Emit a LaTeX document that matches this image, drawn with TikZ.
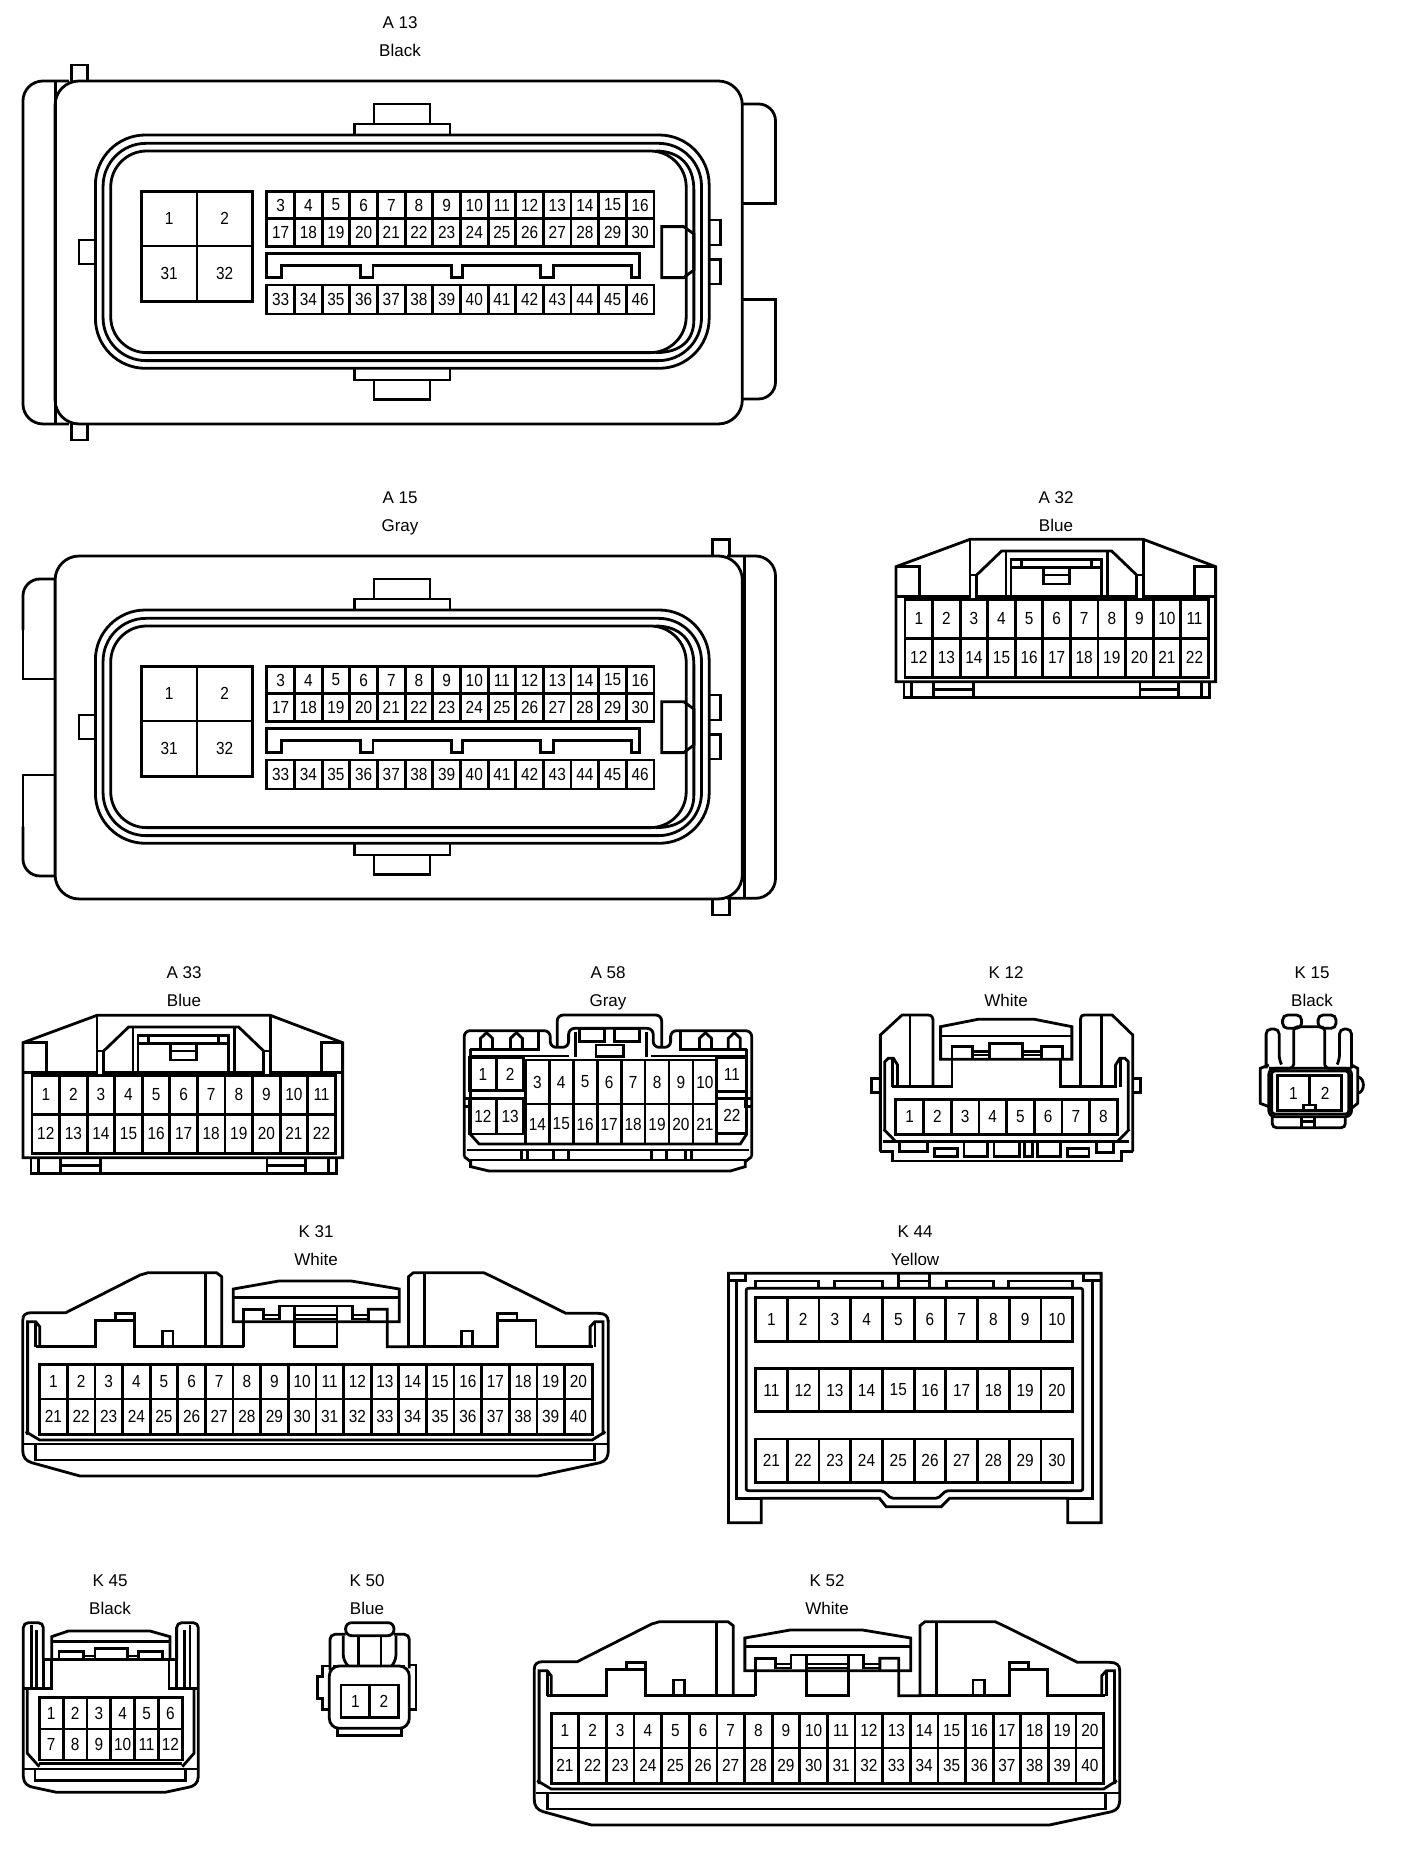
\documentclass[tikz,border=0pt]{standalone}
\usepackage{fontspec}
\setmainfont{Liberation Sans}
\newfontfamily\pinfont[FakeStretch=0.88]{Liberation Sans}
\tikzset{
  ln/.style={line width=2.8pt,line join=miter,line cap=butt},
  pintext/.style={inner sep=0pt,font=\pinfont\fontsize{17.5}{19}\selectfont},
  lbl/.style={inner sep=0pt,anchor=base,font=\fontsize{17}{19}\selectfont}
}
% prefix, x0, x1, y0, y1, cells, first number
\newcommand{\pinrow}[7]{%
  \foreach \ci in {1,...,#6}{%
    \pgfmathsetmacro{\cw}{(#3-#2)/#6}%
    \pgfmathsetmacro{\xa}{#2+(\ci-1)*\cw}%
    \pgfmathsetmacro{\xb}{#2+\ci*\cw}%
    \pgfmathsetmacro{\xm}{(\xa+\xb)/2}%
    \pgfmathsetmacro{\ym}{(#4+#5)/2}%
    \pgfmathtruncatemacro{\pn}{#7+\ci-1}%
    \draw[ln] (\xa,#4) rectangle (\xb,#5);
    \node[pintext] (#1p\pn) at (\xm,\ym) {\pn};
  }%
}
\newcommand{\aface}[1]{%
  \draw[ln,rounded corners=24pt] (108,243) rectangle (1455,1272);
  \draw[ln] (733,372)--(733,312)--(843,312)--(843,372);
  \draw[ln] (695,405)--(695,372)--(882,372)--(882,405);
  \draw[ln] (695,1107)--(695,1140)--(882,1140)--(882,1107);
  \draw[ln] (733,1140)--(733,1198)--(843,1198)--(843,1140);
  \draw[ln,rounded corners=50pt] (187,405) rectangle (1390,1105);
  \draw[ln,rounded corners=43pt] (202,430) rectangle (1375,1082);
  \draw[ln,rounded corners=36pt] (217,453) rectangle (1345,1058);
  \draw[ln] (1285,453) .. controls (1335,453) and (1360,500) .. (1360,570) -- (1360,960) .. controls (1360,1020) and (1335,1058) .. (1285,1058);
  \draw[ln] (187,720)--(155,720)--(155,792)--(187,792);
  \pinrow{#1b}{277}{495}{575}{738}{2}{1}
  \pinrow{#1c}{277}{495}{738}{905}{2}{31}
  \pinrow{#1}{523}{1282}{575}{655}{14}{3}
  \pinrow{#1}{523}{1282}{655}{740}{14}{17}
  \pinrow{#1}{523}{1282}{855}{942}{14}{33}
  \draw[ln] (523,760)--(1253,760)--(1253,833)--(1237,833)--(1237,797)--(1085,797)--(1085,833)--(1060,833)--(1060,797)--(907,797)--(907,833)--(885,833)--(885,797)--(731,797)--(731,833)--(707,833)--(707,797)--(552,797)--(552,833)--(523,833)--cycle;
  \draw[ln] (1297,680)--(1340,680)--(1360,702)--(1360,810)--(1340,833)--(1297,833)--cycle;
  \draw[ln] (1390,660)--(1412,660)--(1412,735)--(1390,735);
  \draw[ln] (1390,778)--(1412,778)--(1412,852)--(1390,852);
}
\newcommand{\bluebody}[1]{%
  \draw[ln] (48,260)--(270,178)--(790,178)--(1007,260)--(1007,605)--(48,605)--cycle;
  \draw[ln] (48,260)--(118,260)--(118,345);
  \draw[ln] (1007,260)--(943,260)--(943,345);
  \draw[ln] (48,350)--(270,350);
  \draw[ln] (290,350)--(393,350);
  \draw[ln] (665,350)--(770,350);
  \draw[ln] (790,350)--(1007,350);
  \draw[ln] (270,178)--(270,358);
  \draw[ln] (790,178)--(790,358);
  \draw[ln] (270,285)--(290,285)--(290,358);
  \draw[ln] (790,285)--(770,285)--(770,358);
  \draw[ln] (290,285)--(365,213)--(695,213)--(770,285);
  \draw[ln] (378,213)--(378,350);
  \draw[ln] (682,213)--(682,350);
  \draw[ln] (393,238)--(665,238)--(665,350)--(393,350)--cycle;
  \draw[ln] (393,262)--(665,262);
  \draw[ln] (425,238)--(425,262);
  \draw[ln] (635,238)--(635,262);
  \draw[ln] (490,262)--(490,312)--(568,312)--(568,262);
  \draw[ln] (490,285)--(568,285);
  \pinrow{#1}{75}{985}{358}{475}{11}{1}
  \pinrow{#1}{75}{985}{475}{592}{11}{12}
  \draw[ln] (72,605)--(72,652)--(988,652)--(988,605);
  \foreach \vx in {95,160,280,780,895,965}{\draw[ln] (\vx,605)--(\vx,652);}
  \draw[ln] (160,628)--(280,628);
  \draw[ln] (780,628)--(895,628);
}
\newcommand{\whitebody}[1]{%
  \draw[ln] (58,300) .. controls (58,285) and (65,278) .. (80,278) -- (165,278) -- (350,165) -- (370,158) -- (540,158) -- (553,170) -- (553,380);
  \draw[ln] (512,158)--(512,380);
  \draw[ln] (582,305)--(582,207)--(695,183)--(875,183)--(995,207)--(995,305)--cycle;
  \draw[ln] (582,232)--(995,232);
  \draw[ln] (608,305)--(608,380);
  \draw[ln] (608,305)--(608,268)--(658,268)--(658,300);
  \draw[ln] (697,300)--(697,258)--(878,258)--(878,300);
  \draw[ln] (735,258)--(735,380)--(840,380)--(840,258);
  \draw[ln] (658,285)--(697,285);
  \draw[ln] (658,297)--(697,297);
  \draw[ln] (878,285)--(918,285);
  \draw[ln] (878,297)--(918,297);
  \draw[ln] (735,285)--(840,285);
  \draw[ln] (735,297)--(840,297);
  \draw[ln] (918,305)--(918,268)--(965,268)--(965,380)--(1018,380)--(1018,170)--(1030,158)--(1205,158)--(1235,175)--(1410,280)--(1490,280) .. controls (1507,280) and (1515,288) .. (1515,305);
  \draw[ln] (1058,158)--(1058,380);
  \draw[ln] (90,380)--(238,380)--(238,302)--(335,302);
  \draw[ln] (288,302)--(288,280)--(335,280)--(335,380)--(608,380);
  \draw[ln] (405,380)--(405,333)--(432,333)--(432,380);
  \draw[ln] (1018,380)--(1240,380)--(1240,280)--(1288,280)--(1288,302);
  \draw[ln] (1240,302)--(1335,302)--(1335,380)--(1478,380);
  \draw[ln] (1150,380)--(1150,333)--(1178,333)--(1178,380);
  \draw[ln] (70,645)--(70,305)--(90,305)--(100,320)--(100,380);
  \draw[ln] (90,305)--(90,380);
  \draw[ln] (1502,645)--(1502,305)--(1482,305)--(1470,320)--(1470,380);
  \draw[ln] (1482,305)--(1482,380);
  \pinrow{#1}{100}{1475}{433}{537}{20}{1}
  \pinrow{#1}{100}{1475}{537}{643}{20}{21}
  \draw[ln] (65,635)--(100,660)--(1475,660)--(1508,635);
  \draw[ln] (62,672)--(1512,672);
  \draw[ln] (90,672)--(90,720)--(1480,720)--(1480,672);
  \draw[ln] (58,300)--(58,690) .. controls (58,712) and (65,722) .. (80,728) -- (200,768) -- (1340,768) -- (1495,728) .. controls (1510,722) and (1515,712) .. (1515,690) -- (1515,300);
}
\begin{document}
\begin{tikzpicture}[x=1pt,y=-1pt]
\useasboundingbox (0,0) rectangle (1408,1850);
\fill[white] (0,0) rectangle (1408,1850);
% labels
\node[lbl] (la13) at (400,28) {A 13};
\node[lbl] (la13c) at (400,56) {Black};
\node[lbl] (la15) at (400,503) {A 15};
\node[lbl] (la15c) at (400,531) {Gray};
\node[lbl] (la32) at (1056,503) {A 32};
\node[lbl] (la32c) at (1056,531) {Blue};
\node[lbl] (la33) at (184,978) {A 33};
\node[lbl] (la33c) at (184,1006) {Blue};
\node[lbl] (la58) at (608,978) {A 58};
\node[lbl] (la58c) at (608,1006) {Gray};
\node[lbl] (lk12) at (1006,978) {K 12};
\node[lbl] (lk12c) at (1006,1006) {White};
\node[lbl] (lk15) at (1312,978) {K 15};
\node[lbl] (lk15c) at (1312,1006) {Black};
\node[lbl] (lk31) at (316,1237) {K 31};
\node[lbl] (lk31c) at (316,1265) {White};
\node[lbl] (lk44) at (915,1237) {K 44};
\node[lbl] (lk44c) at (915,1265) {Yellow};
\node[lbl] (lk45) at (110,1586) {K 45};
\node[lbl] (lk45c) at (110,1614) {Black};
\node[lbl] (lk50) at (367,1586) {K 50};
\node[lbl] (lk50c) at (367,1614) {Blue};
\node[lbl] (lk52) at (827,1586) {K 52};
\node[lbl] (lk52c) at (827,1614) {White};
% A13
\begin{scope}[x=.5102pt,y=-.3333pt]
  \aface{aa}
  \draw[ln] (140,243)--(140,195)--(172,195)--(172,243);
  \draw[ln] (140,1272)--(140,1320)--(172,1320)--(172,1272);
  \draw[ln,rounded corners=20pt] (135,243)--(45,243)--(45,1272)--(135,1272);
  \draw[ln] (108,243)--(108,1272);
  \draw[ln,rounded corners=17pt] (1455,312)--(1520,312)--(1520,450);
  \draw[ln] (1520,450)--(1520,610)--(1455,610);
  \draw[ln] (1455,898)--(1520,898)--(1520,1050);
  \draw[ln,rounded corners=17pt] (1520,1050)--(1520,1197)--(1455,1197);
\end{scope}
% A15
\begin{scope}[shift={(0pt,-475pt)},x=.5102pt,y=-.3333pt]
  \aface{ab}
\end{scope}
\begin{scope}[shift={(0pt,-480pt)},x=.5102pt,y=-.3333pt]
  \draw[ln] (1397,228)--(1397,178)--(1430,178)--(1430,228);
  \draw[ln] (1397,1255)--(1397,1305)--(1430,1305)--(1430,1255);
  \draw[ln,rounded corners=20pt] (1425,228)--(1520,228)--(1520,1255)--(1425,1255);
  \draw[ln] (1460,228)--(1460,1255);
  \draw[ln,rounded corners=17pt] (108,297)--(45,297)--(45,450);
  \draw[ln] (45,450)--(45,597)--(108,597);
  \draw[ln] (108,885)--(45,885)--(45,1040);
  \draw[ln,rounded corners=17pt] (45,1040)--(45,1188)--(108,1188);
\end{scope}
% A32, A33
\begin{scope}[shift={(880pt,-480pt)},x=.3333pt,y=-.3333pt]
  \bluebody{ac}
\end{scope}
\begin{scope}[shift={(7pt,-956pt)},x=.3333pt,y=-.3333pt]
  \bluebody{ad}
\end{scope}
% A58
\begin{scope}[shift={(-1pt,-960pt)},x=.4975pt,y=-.3333pt]
  \draw[ln,rounded corners=6pt] (935,590)--(935,212)--(1108,212)--(1108,262)--(1145,262)--(1145,205)--(1315,205)--(1315,262)--(1350,262)--(1350,212)--(1513,212)--(1513,590);
  \draw[ln,rounded corners=6pt] (1122,262)--(1122,165)--(1332,165)--(1332,262);
  \draw[ln] (947,268)--(1085,268)--(1085,212);
  \draw[ln] (1370,212)--(1370,268)--(1503,268);
  \draw[ln] (947,268)--(947,522);
  \draw[ln] (1503,268)--(1503,522);
  \draw[ln] (947,288)--(1145,288);
  \draw[ln] (1310,288)--(1503,288);
  \foreach \sx in {980,1040,1420,1478}{\draw[ln] (\sx-12,268)--(\sx-12,235)--(\sx,218)--(\sx+12,235)--(\sx+12,268);}
  \draw[ln] (1158,215)--(1158,292);
  \draw[ln] (1302,215)--(1302,292);
  \draw[ln] (1167,205) rectangle (1217,245);
  \draw[ln] (1237,205) rectangle (1287,245);
  \draw[ln] (1200,255) rectangle (1255,290);
  \pinrow{ae}{1058}{1443}{300}{432}{8}{3}
  \pinrow{ae}{1058}{1443}{432}{552}{8}{14}
  \pinrow{ae}{945}{1055}{292}{392}{2}{1}
  \pinrow{ae}{945}{1055}{415}{522}{2}{12}
  \pinrow{ae}{1443}{1503}{292}{395}{1}{11}
  \pinrow{ae}{1443}{1503}{415}{520}{1}{22}
  \draw[ln] (935,415)--(948,415)--(948,440)--(935,440);
  \draw[ln] (1513,415)--(1500,415)--(1500,440)--(1513,440);
  \draw[ln] (947,522)--(965,552)--(1490,552)--(1503,522);
  \draw[ln] (940,570)--(1508,570);
  \draw[ln] (945,600)--(1503,600);
  \foreach \vx in {1050,1062,1115,1145,1312,1342,1380,1392}{\draw[ln] (\vx,570)--(\vx,600);}
  \draw[ln] (935,590)--(948,605)--(948,620)--(985,633)--(1470,633)--(1500,620)--(1500,605)--(1513,590);
\end{scope}
% K12, K15
\begin{scope}[shift={(859pt,-960pt)},x=.3444pt,y=-.3333pt]
  \draw[ln] (62,575)--(62,225)--(125,165)--(200,165) .. controls (212,165) and (215,172) .. (215,185) -- (215,380);
  \draw[ln] (795,575)--(795,225)--(735,165)--(655,165) .. controls (645,165) and (643,172) .. (643,185) -- (643,380);
  \draw[ln] (148,165)--(148,380);
  \draw[ln] (705,165)--(705,380);
  \draw[ln] (237,298)--(237,200)--(345,178)--(510,178)--(618,200)--(618,298)--cycle;
  \draw[ln] (237,228)--(618,228);
  \draw[ln] (97,380)--(270,380)--(270,260)--(330,260)--(330,298);
  \draw[ln] (750,380)--(585,380)--(585,298);
  \draw[ln] (530,298)--(530,260)--(590,260)--(590,298);
  \draw[ln] (380,298)--(380,250)--(475,250)--(475,298);
  \draw[ln] (330,275)--(380,275);
  \draw[ln] (330,285)--(380,285);
  \draw[ln] (475,275)--(530,275);
  \draw[ln] (475,285)--(530,285);
  \draw[ln] (75,510)--(75,305)--(85,295)--(100,295)--(112,315)--(112,380);
  \draw[ln] (97,298)--(97,380);
  \draw[ln] (782,510)--(782,305)--(772,295)--(757,295)--(745,315)--(745,380);
  \draw[ln] (760,298)--(760,380);
  \draw[ln] (62,355)--(37,355)--(37,397)--(62,397);
  \draw[ln] (795,355)--(818,355)--(818,397)--(795,397);
  \pinrow{ka}{107}{750}{418}{523}{8}{1}
  \draw[ln] (72,508)--(107,545);
  \draw[ln] (785,508)--(750,545);
  \draw[ln] (70,545)--(785,545);
  \draw[ln] (62,575)--(97,575)--(97,603)--(763,603)--(763,575)--(795,575);
  \draw[ln] (118,550)--(118,575)--(198,575)--(198,550);
  \draw[ln] (220,565) rectangle (285,590);
  \draw[ln] (305,550)--(305,590)--(372,590)--(372,550);
  \draw[ln] (392,550)--(392,590)--(465,590)--(465,550);
  \draw[ln] (480,550)--(480,590)--(503,590)--(503,550);
  \draw[ln] (518,550)--(518,590)--(585,590)--(585,550);
  \draw[ln] (605,565) rectangle (668,590);
  \draw[ln] (690,550)--(690,577)--(740,577)--(740,550);
  % K15
  \draw[ln,rounded corners=5pt] (1230,165) rectangle (1285,205);
  \draw[ln,rounded corners=5pt] (1333,165) rectangle (1385,205);
  \draw[ln,rounded corners=4pt] (1190,325)--(1262,325)--(1262,200)--(1352,200)--(1352,325)--(1430,325);
  \draw[ln,rounded corners=5pt] (1225,310)--(1220,300)--(1220,207)--(1182,207)--(1182,325);
  \draw[ln,rounded corners=5pt] (1390,310)--(1395,300)--(1395,207)--(1430,207)--(1430,325);
  \draw[ln,rounded corners=6pt] (1190,325) rectangle (1430,470);
  \draw[ln,rounded corners=3pt] (1198,333) rectangle (1422,462);
  \draw[ln] (1190,315)--(1165,325)--(1165,430)--(1190,440);
  \draw[ln] (1430,315)--(1448,325)--(1448,430)--(1430,445);
  \draw[ln] (1448,350) .. controls (1470,355) and (1470,395) .. (1448,400);
  \pinrow{kb}{1215}{1400}{347}{452}{2}{1}
  \draw[ln,fill=white] (1290,435) rectangle (1325,452);
  \draw[ln,rounded corners=4pt] (1200,470)--(1200,503)--(1412,503)--(1412,470);
  \draw[ln] (1285,470)--(1285,503);
  \draw[ln] (1322,470)--(1322,503);
  \draw[ln] (1285,485)--(1322,485);
\end{scope}
% K31, K52
\begin{scope}[shift={(-.5pt,-1220pt)},x=.4018pt,y=-.3333pt]
  \whitebody{kc}
\end{scope}
\begin{scope}[shift={(511pt,-1569pt)},x=.4018pt,y=-.3333pt]
  \whitebody{kd}
\end{scope}
% K44
\begin{scope}[shift={(719.5pt,-1220pt)},x=.3333pt,y=-.3333pt]
  \draw[ln] (27,160)--(1145,160)--(1145,908)--(1045,908)--(1045,835)--(690,835)--(665,860)--(500,860)--(480,835)--(125,835)--(125,908)--(27,908)--cycle;
  \draw[ln] (52,182)--(52,835)--(125,835);
  \draw[ln] (1118,182)--(1118,835)--(1045,835);
  \draw[ln,rounded corners=2pt] (80,205)--(1090,205)--(1090,812)--(680,812)--(655,835)--(515,835)--(490,812)--(80,812)--cycle;
  \draw[ln] (27,182)--(78,182)--(78,160);
  \draw[ln] (1145,182)--(1092,182)--(1092,160);
  \draw[ln] (108,205)--(108,183)--(298,183)--(298,205);
  \draw[ln] (345,205)--(345,183)--(490,183)--(490,205);
  \draw[ln] (537,205)--(537,160);
  \draw[ln] (630,205)--(630,160);
  \draw[ln] (537,183)--(630,183);
  \draw[ln] (680,205)--(680,183)--(822,183)--(822,205);
  \draw[ln] (868,205)--(868,183)--(1060,183)--(1060,205);
  \pinrow{ke}{108}{1060}{233}{365}{10}{1}
  \pinrow{ke}{108}{1060}{445}{575}{10}{11}
  \pinrow{ke}{108}{1060}{657}{788}{10}{21}
\end{scope}
% K45, K50
\begin{scope}[shift={(0pt,-1570pt)},x=.3333pt,y=-.3333pt]
  \draw[ln,rounded corners=5pt] (70,600)--(70,158)--(130,158)--(130,268);
  \draw[ln,rounded corners=5pt] (595,600)--(595,158)--(530,158)--(530,268);
  \draw[ln] (95,165)--(95,355);
  \draw[ln] (110,180)--(110,355);
  \draw[ln] (570,165)--(570,355);
  \draw[ln] (553,180)--(553,355);
  \draw[ln] (130,268)--(130,355);
  \draw[ln] (530,268)--(530,355);
  \draw[ln] (70,355)--(155,355)--(155,268);
  \draw[ln] (595,355)--(507,355)--(507,268);
  \draw[ln] (155,268)--(155,200)--(205,183)--(450,183)--(510,200)--(510,268);
  \draw[ln] (155,215)--(510,215);
  \draw[ln] (130,268)--(530,268);
  \draw[ln] (177,268)--(177,245)--(250,245)--(250,268);
  \draw[ln] (285,265)--(285,235)--(382,235)--(382,265);
  \draw[ln] (415,268)--(415,245)--(487,245)--(487,268);
  \draw[ln] (250,258)--(285,258);
  \draw[ln] (382,258)--(415,258);
  \draw[ln] (82,355)--(82,550)--(118,590);
  \draw[ln] (582,355)--(582,550)--(547,590);
  \pinrow{kf}{118}{547}{382}{477}{6}{1}
  \pinrow{kf}{118}{547}{477}{570}{6}{7}
  \draw[ln] (118,580)--(547,580);
  \draw[ln] (70,597)--(595,597);
  \draw[ln] (105,597)--(105,632)--(557,632)--(557,597);
  \draw[ln] (70,600)--(70,620) .. controls (70,640) and (85,650) .. (100,652) -- (170,667) -- (495,667) -- (565,652) .. controls (580,650) and (595,640) .. (595,620) -- (595,600);
  % K50
  \draw[ln,rounded corners=6pt] (1037,158) rectangle (1182,197);
  \draw[ln] (1075,197)--(1075,288)--(1000,288);
  \draw[ln] (1143,197)--(1143,288)--(1215,288);
  \draw[ln,rounded corners=5pt] (990,300)--(990,193)--(1037,193);
  \draw[ln,rounded corners=5pt] (1030,197)--(1030,270)--(1045,288);
  \draw[ln,rounded corners=5pt] (1182,193)--(1228,193)--(1228,295);
  \draw[ln,rounded corners=5pt] (1188,197)--(1188,270)--(1175,288);
  \draw[ln,rounded corners=10pt] (988,288) rectangle (1228,475);
  \draw[ln] (988,288)--(968,288)--(968,320)--(952,320)--(952,385)--(968,385)--(968,418)--(988,418);
  \draw[ln] (1228,285)--(1248,285)--(1248,418)--(1228,418);
  \draw[ln] (1012,475)--(1012,497)--(1205,497)--(1205,475);
  \pinrow{kg}{1023}{1195}{345}{442}{2}{1}
\end{scope}
\end{tikzpicture}
\end{document}
